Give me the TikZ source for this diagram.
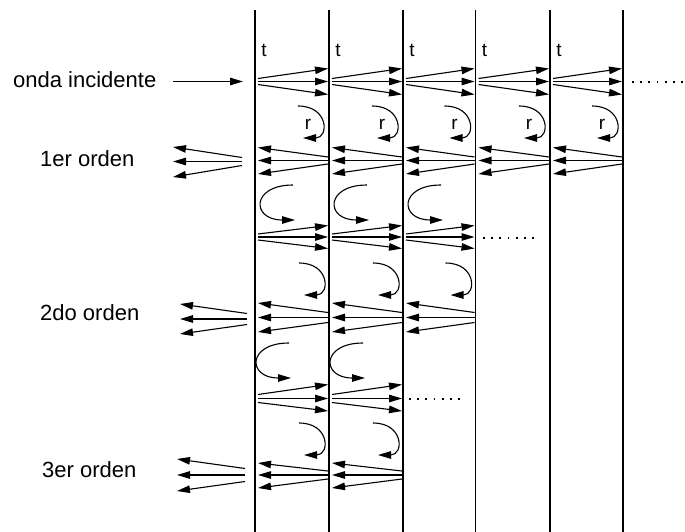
\documentclass[tikz,border=0pt]{standalone}
\usepackage{fontspec}
\setmainfont{Liberation Sans}
\usetikzlibrary{arrows.meta}

% A fan of three rays: origin x, tip x, centre y, half spread at the origin,
% spread above and below the centre at the tips.
\newcommand{\rayfan}[6]{%
  \draw[ray] ({#1},{#3-#4}) -- ({#2},{#3-#5});
  \draw[ray] ({#1},{#3}) -- ({#2},{#3});
  \draw[ray] ({#1},{#3+#4}) -- ({#2},{#3+#6});
}
% Curved reflection arrow bending to the right, starting at (x,y)
\newcommand{\bendright}[2]{%
  \draw[ray] ({#1},{#2}) .. controls ({#1+31},{#2}) and ({#1+31},{#2+32}) .. ({#1+5},{#2+32});
}
% Curved reflection arrow bending to the left, starting at (x,y)
\newcommand{\bendleft}[2]{%
  \draw[ray] ({#1},{#2}) .. controls ({#1-42},{#2}) and ({#1-42},{#2+35}) .. ({#1+2},{#2+35});
}

\begin{document}
\begin{tikzpicture}[x=1pt,y=-1pt,
  ray/.style={line width=1.1pt,-{Triangle[length=13pt,width=7.5pt]}},
  layer/.style={line width=1.3pt},
  dots/.style={line width=1.4pt,dash pattern=on 1.8pt off 6.4pt},
  lbl/.style={anchor=base west,inner sep=0pt,font=\fontsize{22}{26}\selectfont},
  small/.style={inner sep=0pt,font=\fontsize{19}{22}\selectfont}]
\useasboundingbox (0,0) rectangle (685,532);

% layer boundaries
\foreach \xx [count=\i] in {255,329,403,475.5,550,623}
  \draw[layer] (\xx,10) -- (\xx,532);

% labels
\node[lbl] (inc) at (13,88) {onda incidente};
\node[lbl] (o1) at (40,166.5) {1er orden};
\node[lbl] (o2) at (40,320) {2do orden};
\node[lbl] (o3) at (42,477) {3er orden};

% incident wave
\coordinate (src) at (173,81.5);
\coordinate (hit) at (243,81.5);
\draw[ray] (src) -- (hit);

% first pass: transmitted, r arrows and reflected, five cells
\foreach \xl/\xr in {255/329,329/403,403/475.5,475.5/550,550/623}{
  \node[small,anchor=base] at ({\xl+9},57) {t};
  \rayfan{\xl+3}{\xr-1}{81.5}{3}{13}{13}
  \bendright{\xr-31}{106}
  \node[small] at ({\xr-21},124) {r};
  \rayfan{\xr-1}{\xl+3}{160.5}{3.5}{13}{13.5}
}
\draw[dots] (632,82) -- (683,82);
\rayfan{242}{173}{161.5}{4}{14.5}{15.5}

% second pass, three cells
\foreach \xl/\xr in {255/329,329/403,403/475.5}{
  \bendleft{\xl+38}{185}
  \rayfan{\xl+3}{\xr-1}{237}{3}{11.5}{11.5}
  \bendright{\xr-30}{263}
  \rayfan{\xr-1}{\xl+3}{317.5}{5}{14.5}{14.5}
}
\draw[dots] (483,238) -- (536,238);
\rayfan{247}{180}{319}{5.5}{15}{15}

% third pass, two cells
\foreach \xl/\xr in {255/329,329/403}{
  \bendleft{\xl+34}{343}
  \rayfan{\xl+3}{\xr-1}{398.5}{4}{14}{12.5}
  \bendright{\xr-30}{423}
  \rayfan{\xr-1}{\xl+3}{475}{4}{12}{13}
}
\draw[dots] (409,399) -- (462,399);
\rayfan{245}{177}{475}{6.5}{16}{16}
\end{tikzpicture}
\end{document}
